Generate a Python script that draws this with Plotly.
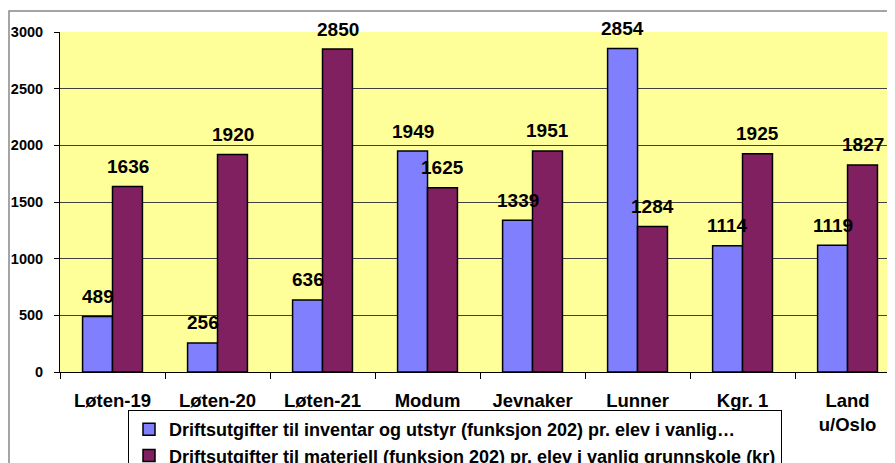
import plotly.graph_objects as go

# Categories and values
kommuner = ['Løten-19', 'Løten-20', 'Løten-21', 'Modum', 'Jevnaker', 'Lunner', 'Kgr. 1', 'Land<br>u/Oslo']
inventar = [489, 256, 636, 1949, 1339, 2854, 1114, 1119]
materiell = [1636, 1920, 2850, 1625, 1951, 1284, 1925, 1827]

navn_inventar = 'Driftsutgifter til inventar og utstyr (funksjon 202) pr. elev i vanlig…'
navn_materiell = 'Driftsutgifter til materiell (funksjon 202) pr. elev i vanlig grunnskole (kr)'

font_family = 'Liberation Sans, Arial, sans-serif'

fig = go.Figure()
fig.add_trace(go.Bar(x=kommuner, y=inventar, name=navn_inventar,
                     marker=dict(color='#8080FF', line=dict(color='black', width=1.5))))
fig.add_trace(go.Bar(x=kommuner, y=materiell, name=navn_materiell,
                     marker=dict(color='#812060', line=dict(color='black', width=1.5))))

# Value labels above each bar
for k, a, b in zip(kommuner, inventar, materiell):
    fig.add_annotation(x=k, y=a, text=str(a), showarrow=False, xshift=-15, yshift=20,
                       font=dict(size=19, family=font_family, color='black', weight=700))
    fig.add_annotation(x=k, y=b, text=str(b), showarrow=False, xshift=15, yshift=20,
                       font=dict(size=19, family=font_family, color='black', weight=700))

# Outer chart frame (partly cut off like in the original)
fig.add_shape(type='rect', xref='paper', yref='paper',
              x0=-51 / 835, y0=-0.6, x1=1.2, y1=(372 - 11) / 340,
              line=dict(color='#888888', width=1.5), layer='below')

# The page adds an 8px body margin, so the figure is offset; the bottom/right
# part (legend) is cut off by the window just like in the original picture.
fig.update_layout(
    width=895, height=500,
    margin=dict(l=52, r=8, t=24, b=136, autoexpand=False),
    paper_bgcolor='white',
    plot_bgcolor='#FFFF99',
    barmode='group', bargap=0.43, bargroupgap=0,
    font=dict(family=font_family, color='black'),
    showlegend=True,
    legend=dict(x=(128 - 60) / 835, y=(372 - 410) / 340, xanchor='left', yanchor='top',
                bgcolor='white', bordercolor='black', borderwidth=1,
                font=dict(size=18, family=font_family, weight=700),
                tracegroupgap=0, itemwidth=30),
    xaxis=dict(range=[-0.5, 7.452], showline=True, linecolor='black', linewidth=1,
               ticks='outside', tickson='boundaries', ticklen=6, tickcolor='black',
               tickfont=dict(size=18.5, family=font_family, weight=700), tickangle=0,
               ticklabelstandoff=12, automargin=False, showgrid=False),
    yaxis=dict(range=[0, 3000], dtick=500, showline=True, linecolor='black', linewidth=1,
               ticks='outside', ticklen=5, tickcolor='black',
               tickfont=dict(size=14.5, family=font_family, weight=700),
               ticklabelstandoff=8, automargin=False,
               showgrid=True, gridcolor='#404040', gridwidth=1, zeroline=False),
)

fig.write_html("out.html")
